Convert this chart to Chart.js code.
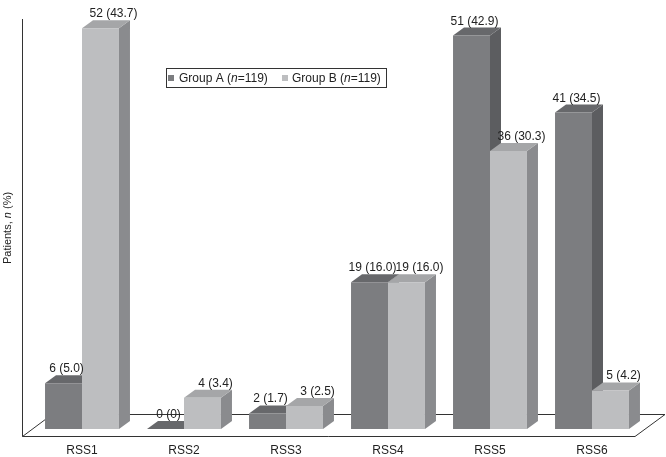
<!DOCTYPE html>
<html>
<head>
  <title>RSS by group</title>
  <style>
    body { margin: 0; background: #fff; }
    #wrap { width: 666px; height: 457px; }
  </style>
</head>
<body>
  <div id="wrap"><canvas id="rssChart" width="666" height="457"></canvas></div>

  <script src="https://cdn.jsdelivr.net/npm/chart.js"></script>
  <script>
    const categories = ['RSS1', 'RSS2', 'RSS3', 'RSS4', 'RSS5', 'RSS6'];
    const groupA_n = [6, 0, 2, 19, 51, 41];
    const groupA_pct = [5.0, 0, 1.7, 16.0, 42.9, 34.5];
    const groupB_n = [52, 4, 3, 19, 36, 5];
    const groupB_pct = [43.7, 3.4, 2.5, 16.0, 30.3, 4.2];

    const FONT = '"Liberation Sans", Arial, Helvetica, sans-serif';
    // front, top, side shades for each group
    const shades = [
      { front: '#7c7d80', top: '#67686b', side: '#5c5d60' },
      { front: '#bdbec0', top: '#a5a6a8', side: '#8a8b8e' }
    ];
    const DX = 11, DY = 8;
    const labelShift = [3, 13]; // value labels sit a bit right of the bar centre

    function poly(ctx, pts, color) {
      ctx.beginPath();
      ctx.moveTo(pts[0][0], pts[0][1]);
      for (let k = 1; k < pts.length; k++) ctx.lineTo(pts[k][0], pts[k][1]);
      ctx.closePath();
      ctx.fillStyle = color;
      ctx.fill();
    }

    const bars3d = {
      id: 'bars3d',
      beforeDatasetsDraw(chart) {
        const ctx = chart.ctx;
        const area = chart.chartArea;
        ctx.save();
        // floor + axis line
        ctx.strokeStyle = '#333';
        ctx.lineWidth = 1;
        ctx.beginPath();
        ctx.moveTo(22.5, area.top);
        ctx.lineTo(22.5, 436.5);
        ctx.lineTo(635, 436.5);
        ctx.lineTo(665, 414.5);
        ctx.lineTo(52, 414.5);
        ctx.lineTo(22.5, 436.5);
        ctx.stroke();

        // side and top faces, group A then B in each category
        for (let i = 0; i < categories.length; i++) {
          for (let d = 0; d < 2; d++) {
            const bar = chart.getDatasetMeta(d).data[i];
            const p = bar.getProps(['x', 'y', 'base', 'width'], true);
            const l = p.x - p.width / 2, r = p.x + p.width / 2;
            poly(ctx, [[r, p.y], [r + DX, p.y - DY], [r + DX, p.base - DY], [r, p.base]], shades[d].side);
            poly(ctx, [[l, p.y], [l + DX, p.y - DY], [r + DX, p.y - DY], [r, p.y]], shades[d].top);
          }
        }
        ctx.restore();
      },
      afterDatasetsDraw(chart) {
        const ctx = chart.ctx;
        ctx.save();
        ctx.fillStyle = '#222';
        ctx.font = '12px ' + FONT;
        ctx.textAlign = 'center';
        ctx.textBaseline = 'alphabetic';
        const nums = [groupA_n, groupB_n];
        const pcts = [groupA_pct, groupB_pct];
        for (let d = 0; d < 2; d++) {
          chart.getDatasetMeta(d).data.forEach((bar, i) => {
            const p = bar.getProps(['x', 'y'], true);
            const pc = pcts[d][i] === 0 ? '0' : pcts[d][i].toFixed(1);
            ctx.fillText(nums[d][i] + ' (' + pc + ')', p.x + labelShift[d], p.y - DY - 3);
          });
        }

        // legend box
        ctx.strokeStyle = '#333';
        ctx.strokeRect(166.5, 68.5, 220, 19);
        const items = [['Group A (', 168, 179], ['Group B (', 282, 292]];
        ctx.textAlign = 'left';
        ctx.textBaseline = 'middle';
        items.forEach((it, d) => {
          ctx.fillStyle = shades[d].front;
          ctx.fillRect(it[1], 75, 6, 6);
          ctx.fillStyle = '#222';
          let x = it[2];
          ctx.font = '12px ' + FONT;
          ctx.fillText(it[0], x, 78.5);
          x += ctx.measureText(it[0]).width;
          ctx.font = 'italic 12px ' + FONT;
          ctx.fillText('n', x, 78.5);
          x += ctx.measureText('n').width;
          ctx.font = '12px ' + FONT;
          ctx.fillText('=119)', x, 78.5);
        });

        // y axis title
        ctx.translate(8, 228);
        ctx.rotate(-Math.PI / 2);
        const parts = [['Patients, ', ''], ['n', 'italic '], [' (%)', '']];
        let total = 0;
        parts.forEach(pt => { ctx.font = pt[1] + '11px ' + FONT; total += ctx.measureText(pt[0]).width; });
        let x = -total / 2;
        parts.forEach(pt => {
          ctx.font = pt[1] + '11px ' + FONT;
          ctx.fillText(pt[0], x, 0);
          x += ctx.measureText(pt[0]).width;
        });
        ctx.restore();
      }
    };

    new Chart(document.getElementById('rssChart'), {
      type: 'bar',
      data: {
        labels: categories,
        datasets: [
          { label: 'Group A (n=119)', data: groupA_pct, backgroundColor: shades[0].front, borderWidth: 0 },
          { label: 'Group B (n=119)', data: groupB_pct, backgroundColor: shades[1].front, borderWidth: 0 }
        ]
      },
      options: {
        responsive: false,
        animation: false,
        layout: { padding: { left: 31, right: 23, top: 19, bottom: 0 } },
        categoryPercentage: 0.725,
        barPercentage: 1,
        plugins: { legend: { display: false }, tooltip: { enabled: false } },
        scales: {
          x: {
            grid: { display: false, drawTicks: false },
            border: { display: false },
            ticks: { color: '#222', font: { family: FONT, size: 12 }, padding: 14 },
            afterFit(scale) { scale.height = 28; }
          },
          y: { display: false, min: 0, max: 44.7 }
        }
      },
      plugins: [bars3d]
    });
  </script>
</body>
</html>
